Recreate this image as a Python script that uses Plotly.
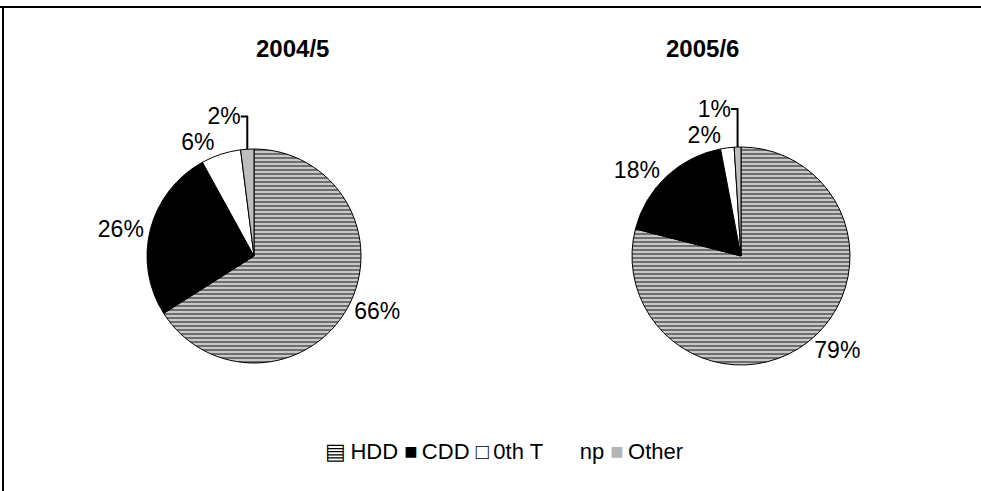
"""Pie charts: share of degree-day categories, 2004/5 vs 2005/6"""

import plotly.graph_objects as go

labels = ["HDD", "CDD", "0th T\u00a0\u00a0\u00a0\u00a0np", "Other"]
values_2004 = [66, 26, 6, 2]
values_2005 = [79, 18, 2, 1]
titles = ["2004/5", "2005/6"]

colors = ["#c8c8c8", "#000000", "#ffffff", "#bdbdbd"]
shapes = ["-", "", "", ""]

W, H = 981, 491
FONT = "Liberation Sans, Arial"


def dom(cx, cy, r):
    # pixel centre/radius -> paper domain
    return dict(x=[(cx - r) / W, (cx + r) / W], y=[1 - (cy + r) / H, 1 - (cy - r) / H])


def make_pie(vals, domain):
    return go.Pie(
        labels=labels,
        values=vals,
        domain=domain,
        sort=False,
        direction="clockwise",
        rotation=0,
        textinfo="percent",
        texttemplate="%{value}%",
        textposition="outside",
        outsidetextfont=dict(size=23, color="#000000", family=FONT),
        marker=dict(
            colors=colors,
            line=dict(color="#000000", width=1),
            pattern=dict(shape=shapes, fgcolor="#000000", bgcolor=colors,
                         size=4, solidity=0.45, fillmode="overlay"),
        ),
        showlegend=False,
        hoverinfo="label+percent",
    )


fig = go.Figure()
fig.add_trace(make_pie(values_2004, dom(254, 256, 107)))
fig.add_trace(make_pie(values_2005, dom(741, 256, 109)))

for t, cx in zip(titles, [254, 741]):
    fig.add_annotation(text=f"<b>{t}</b>", x=cx / W, y=1 - 48 / H, xref="paper", yref="paper",
                       yanchor="middle", showarrow=False,
                       font=dict(size=24, color="#000000", family=FONT))

# legend line, written as text like the original
legend_text = (
    "▤\u2009HDD ■\u2009CDD □\u20090th T\u00a0\u00a0\u00a0\u00a0\u00a0\u00a0np "
    "<span style='color:#b4b4b4'>■</span>\u2009Other"
)
fig.add_annotation(text=legend_text, x=504 / W, y=1 - 451 / H, xref="paper", yref="paper",
                   yanchor="middle", showarrow=False,
                   font=dict(size=22, color="#000000", family=FONT))

# frame lines at top and left
fig.add_shape(type="line", xref="paper", yref="paper", x0=0, x1=1, y0=1 - 7 / H, y1=1 - 7 / H,
              line=dict(color="#000000", width=2))
fig.add_shape(type="line", xref="paper", yref="paper", x0=3 / W, x1=3 / W, y0=0, y1=1 - 7 / H,
              line=dict(color="#000000", width=2))

fig.update_layout(
    width=W,
    height=H,
    margin=dict(l=0, r=0, t=0, b=0),
    paper_bgcolor="#ffffff",
    plot_bgcolor="#ffffff",
    font=dict(family=FONT, size=18, color="#000000"),
    showlegend=False,
)

fig.write_html(
    "out.html",
    config={"displayModeBar": False},
    post_script="document.body.style.margin='0';document.body.style.overflow='hidden';",
)
